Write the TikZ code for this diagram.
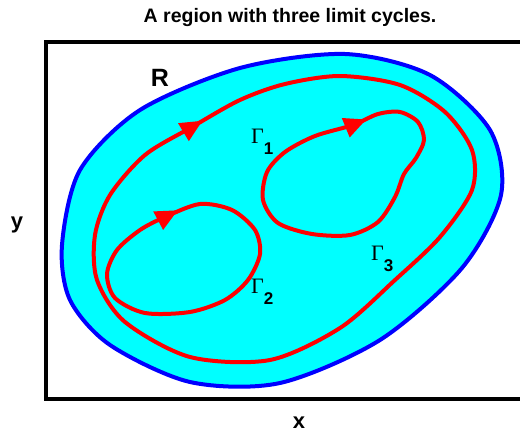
\documentclass[tikz,border=0pt]{standalone}
\usepackage{amsmath}
\usepackage{fontspec}
\setmainfont{Liberation Sans}
\newfontfamily\greekfont{Liberation Serif}
\usepackage{tikz}
\definecolor{regioncyan}{RGB}{0,255,255}
\definecolor{edgeblue}{RGB}{0,0,255}
\definecolor{cyclered}{RGB}{255,0,0}
\tikzset{pics/cyclearrow/.style={code={\fill[cyclered] (12pt,0pt) -- (-10pt,10.5pt) -- (-10pt,-10.5pt) -- cycle;}}}

\begin{document}
\begin{tikzpicture}[x=1pt, y=-1pt,
    limitcycle/.style={draw=cyclered, line width=4pt},
    glabel/.style={font=\fontsize{22}{22}\selectfont, inner sep=0pt, anchor=north west},
    axlabel/.style={font=\fontsize{22}{22}\selectfont\bfseries, inner sep=0pt}]
        \useasboundingbox (0,0) rectangle (520,434);
        \clip (0,0) rectangle (520,434);

        % Frame (open on the right)
        \draw[line width=3.5pt] (46,42) rectangle (560,399);

        % Region R
        \draw[fill=regioncyan, draw=edgeblue, line width=4pt] plot[smooth cycle] coordinates {
            (62,245) (80,170) (140,110) (240,68) (345,54) (430,75) (490,130) (501,195)
            (462,268) (380,340) (280,383) (190,382) (110,345) (70,300)};

        % Outer cycle
        \draw[limitcycle] plot[smooth cycle] coordinates {
            (192,127) (240,100) (285,84) (340,76) (400,85) (445,112) (472,150) (472,190) (440,237)
            (395,280) (340,328) (270,360) (190,357) (125,322) (97,280) (95,235) (110,195) (145,155)};
        \pic[rotate=31] at (192,127) {cyclearrow};

        % Lower left cycle
        \draw[limitcycle] plot[smooth cycle] coordinates {
            (165,217) (200,204) (232,210) (255,230) (260,254) (248,280) (225,300) (190,312)
            (145,313) (115,298) (107,274) (117,250) (140,230)};
        \pic[rotate=28] at (167,216) {cyclearrow};

        % Upper right cycle
        \draw[limitcycle] plot[smooth cycle] coordinates {
            (353,125) (378,114) (400,112) (418,122) (424,140) (416,158) (404,174) (395,197)
            (378,222) (350,235) (312,234) (278,223) (263,200) (267,172) (285,152) (315,136)};
        \pic[rotate=22] at (355,124) {cyclearrow};

        % Labels
        \node[font=\fontsize{19.5}{19.5}\selectfont\bfseries] (title) at (290,18) {A region with three limit cycles.};
        \node[font=\fontsize{25}{25}\selectfont\bfseries, inner sep=0pt] (rlab) at (160,78) {R};
        \node[glabel] (g1lab) at (251,129) {{\greekfont Γ}\raisebox{-0.5em}{\fontsize{17}{17}\selectfont\bfseries 1}};
        \node[glabel] (g2lab) at (251,279) {{\greekfont Γ}\raisebox{-0.5em}{\fontsize{17}{17}\selectfont\bfseries 2}};
        \node[glabel] (g3lab) at (371,246) {{\greekfont Γ}\raisebox{-0.5em}{\fontsize{17}{17}\selectfont\bfseries 3}};
        \node[axlabel] (ylab) at (17,225) {y};
        \node[axlabel] (xlab) at (299,423) {x};
    \end{tikzpicture}
\end{document}
